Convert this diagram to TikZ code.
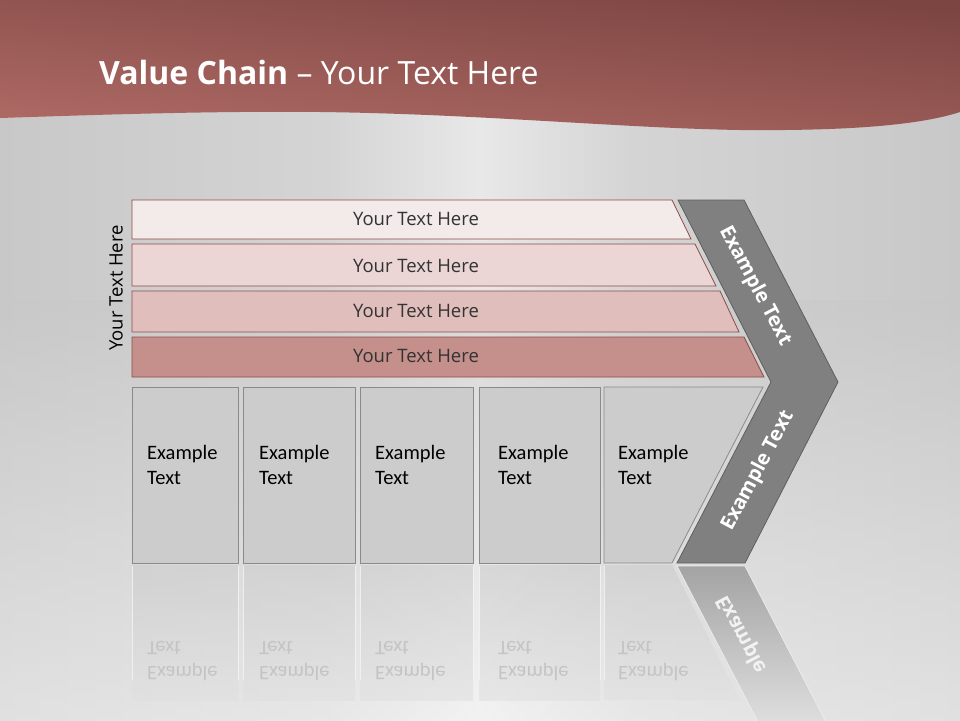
\documentclass[tikz,border=0pt]{standalone}
\usepackage{fontspec}
\setmainfont{Carlito}
\newfontfamily\osans{Open Sans}
\definecolor{bgA}{HTML}{C8C8C8}
\definecolor{bgB}{HTML}{D4D4D4}
\definecolor{bgM}{HTML}{E8E8E8}
\definecolor{hdrTop}{HTML}{7C4542}
\definecolor{hdrBot}{HTML}{AE6964}
\definecolor{barA}{HTML}{F3EAEA}
\definecolor{barB}{HTML}{EBD6D5}
\definecolor{barC}{HTML}{E0BEBC}
\definecolor{barD}{HTML}{C58F8B}
\definecolor{barline}{HTML}{8E4B48}
\definecolor{chev}{HTML}{808080}
\definecolor{chevline}{HTML}{5F5F5F}
\definecolor{boxfill}{HTML}{CCCCCC}
\definecolor{boxline}{HTML}{8A8A8A}
\definecolor{reftext}{HTML}{C4C4C4}
\pgfdeclarehorizontalshading{bgshade}{100bp}{color(0bp)=(bgA); color(25bp)=(bgA); color(42bp)=(bgB); color(50bp)=(bgM); color(58bp)=(bgB); color(75bp)=(bgA); color(100bp)=(bgA)}
\tikzset{
  barshape/.style={draw=barline, line width=0.8pt},
  bartext/.style={font=\osans\fontsize{18.5}{22}\selectfont, text=black!80},
  chevshape/.style={fill=chev, draw=chevline, line width=0.8pt},
  chevtext/.style={font=\osans\bfseries\fontsize{20}{24}\selectfont, text=white},
  boxshape/.style={fill=boxfill, draw=boxline, line width=0.8pt},
  boxtext/.style={font=\fontsize{20.5}{25.5}\selectfont, align=left, anchor=west, inner sep=0pt},
  refbox/.style={top color=black!20, bottom color=black!12, opacity=0.6},
  refedge/.style={draw=white!92!gray, line width=1pt, opacity=0.8},
  reflabel/.style={font=\fontsize{20.5}{25.5}\selectfont, align=left, anchor=west, inner sep=0pt, text=reftext, yscale=-1},
}
\begin{document}
\begin{tikzpicture}[x=1pt,y=-1pt]
\useasboundingbox (0,0) rectangle (960,720);
% background
\shade[shading=bgshade] (0,0) rectangle (960,720);
\shade[top color=bgA, bottom color=white, opacity=0.45] (0,300) rectangle (960,720);
% header
\shade[top color=hdrTop, bottom color=hdrBot, shading angle=-6]
  (0,0) -- (960,0) -- (960,112)
  .. controls (920,125) and (850,131) .. (740,130)
  .. controls (620,128) and (480,114) .. (320,112)
  .. controls (220,111) and (120,114) .. (0,118) -- cycle;
\node[anchor=base west, inner sep=0pt, text=white, font=\osans\fontsize{32}{38}\selectfont] (title) at (99,84) {\textbf{Value Chain} – Your Text Here};
% reflections
\shade[refbox] (132,565) rectangle (238,700);
\shade[refbox] (243,565) rectangle (355,700);
\shade[refbox] (360,565) rectangle (473,700);
\shade[refbox] (479,565) rectangle (600,700);
\shade[refbox] (604,565) -- (672,565) -- (740,700) -- (604,700) -- cycle;
\foreach \xx in {132,238,243,355,360,473,479,600,604}{
  \draw[refedge] (\xx,566) -- (\xx,680);
}
\shade[top color=black!36, bottom color=black!13, draw=white!85!gray, line width=0.8pt] (677,566) -- (745,566) -- (826,722) -- (758,722) -- cycle;
\node[reflabel] (r1) at (147,661) {Example\\Text};
\node[reflabel] (r2) at (259,661) {Example\\Text};
\node[reflabel] (r3) at (375,661) {Example\\Text};
\node[reflabel] (r4) at (498,661) {Example\\Text};
\node[reflabel] (r5) at (618,661) {Example\\Text};
\node[chevtext, text=white!90!gray, yscale=-1, rotate=62] (r6) at (742,634) {Example};
% bars
\path[barshape, fill=barA] (132,200) -- (672,200) -- (691,239) -- (132,239) -- cycle;
\path[barshape, fill=barB] (132,244) -- (695,244) -- (716,286) -- (132,286) -- cycle;
\path[barshape, fill=barC] (132,291) -- (720,291) -- (739,332) -- (132,332) -- cycle;
\path[barshape, fill=barD] (132,337) -- (744,337) -- (764,377) -- (132,377) -- cycle;
\node[bartext] (b1) at (416,219) {Your Text Here};
\node[bartext] (b2) at (416,266) {Your Text Here};
\node[bartext] (b3) at (416,311) {Your Text Here};
\node[bartext] (b4) at (416,356) {Your Text Here};
\node[bartext, text=black, rotate=90] (side) at (116,288) {Your Text Here};
% chevron
\path[chevshape] (678,200) -- (744,200) -- (838,382) -- (745,563) -- (677,563) -- (771,382) -- cycle;
\node[chevtext, rotate=-62] (c1) at (755,286) {Example Text};
\node[chevtext, rotate=62] (c2) at (758,471) {Example Text};
% boxes
\path[boxshape] (132,387) rectangle (238,563);
\path[boxshape] (243,387) rectangle (355,563);
\path[boxshape] (360,387) rectangle (473,563);
\path[boxshape] (479,387) rectangle (600,563);
\path[boxshape] (604,387) -- (763,387) -- (672,563) -- (604,563) -- cycle;
\node[boxtext] (t1) at (147,465) {Example\\Text};
\node[boxtext] (t2) at (259,465) {Example\\Text};
\node[boxtext] (t3) at (375,465) {Example\\Text};
\node[boxtext] (t4) at (498,465) {Example\\Text};
\node[boxtext] (t5) at (618,465) {Example\\Text};
\end{tikzpicture}
\end{document}
